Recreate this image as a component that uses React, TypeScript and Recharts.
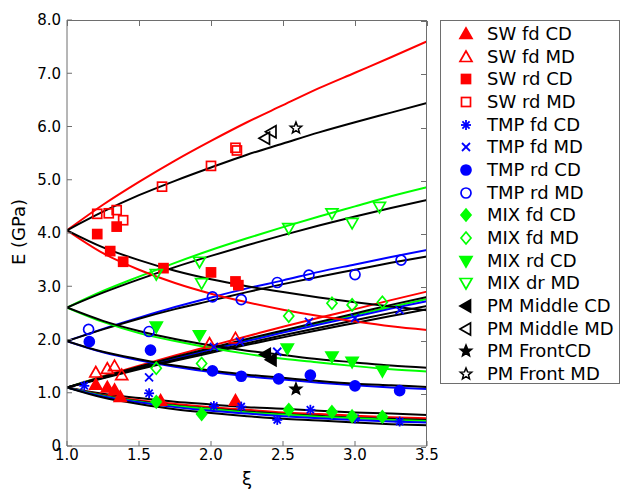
import React from 'react';
import { ComposedChart, Line, Scatter, XAxis, YAxis } from 'recharts';

// ---------- curve grid and values ----------
const XI_GRID = [1, 1.25, 1.5, 1.75, 2, 2.25, 2.5, 2.75, 3, 3.25, 3.5];

const RED_UP_A = [4.05, 4.53, 4.96, 5.36, 5.73, 6.08, 6.40, 6.72, 7.01, 7.30, 7.60];
const RED_DOWN_A = [4.05, 3.62, 3.31, 3.06, 2.86, 2.70, 2.56, 2.44, 2.34, 2.25, 2.18];
const BLACK_UP_A = [4.05, 4.40, 4.71, 4.98, 5.23, 5.47, 5.68, 5.89, 6.08, 6.26, 6.44];
const BLACK_DOWN_A = [4.05, 3.73, 3.49, 3.29, 3.13, 3.00, 2.89, 2.79, 2.70, 2.62, 2.55];

const GREEN_UP_B = [2.60, 2.91, 3.18, 3.44, 3.68, 3.90, 4.11, 4.31, 4.50, 4.69, 4.86];
const GREEN_DOWN_B = [2.60, 2.33, 2.12, 1.97, 1.84, 1.73, 1.64, 1.57, 1.50, 1.44, 1.40];
const BLACK_UP_B = [2.60, 2.88, 3.13, 3.36, 3.57, 3.77, 3.96, 4.14, 4.31, 4.47, 4.62];
const BLACK_DOWN_B = [2.60, 2.35, 2.16, 2.01, 1.89, 1.79, 1.71, 1.63, 1.57, 1.51, 1.47];

const BLUE_UP_C = [1.97, 2.20, 2.41, 2.61, 2.79, 2.96, 3.11, 3.27, 3.41, 3.55, 3.68];
const BLUE_DOWN_C = [1.97, 1.76, 1.61, 1.49, 1.39, 1.31, 1.25, 1.19, 1.14, 1.10, 1.07];
const BLACK_UP_C = [1.97, 2.19, 2.39, 2.57, 2.73, 2.89, 3.04, 3.18, 3.31, 3.44, 3.56];
const BLACK_DOWN_C = [1.97, 1.77, 1.63, 1.51, 1.42, 1.34, 1.28, 1.22, 1.17, 1.14, 1.11];

const RED_UP_D = [1.10, 1.31, 1.51, 1.70, 1.88, 2.06, 2.24, 2.41, 2.57, 2.74, 2.90];
const BLACK_UP_D1 = [1.10, 1.30, 1.49, 1.67, 1.84, 2.01, 2.17, 2.33, 2.49, 2.65, 2.80];
const GREEN_UP_D = [1.10, 1.30, 1.48, 1.66, 1.83, 1.99, 2.16, 2.31, 2.46, 2.61, 2.76];
const BLUE_UP_D = [1.10, 1.29, 1.47, 1.64, 1.81, 1.97, 2.13, 2.28, 2.43, 2.58, 2.72];
const BLACK_UP_D2 = [1.10, 1.28, 1.46, 1.62, 1.78, 1.93, 2.08, 2.22, 2.36, 2.50, 2.63];
const BLACK_UP_D3 = [1.10, 1.27, 1.44, 1.60, 1.75, 1.90, 2.04, 2.18, 2.31, 2.44, 2.57];

const BLACK_DOWN_D1 = [1.10, 0.98, 0.90, 0.83, 0.78, 0.73, 0.70, 0.66, 0.63, 0.61, 0.58];
const RED_DOWN_D = [1.10, 0.96, 0.86, 0.79, 0.73, 0.68, 0.63, 0.60, 0.57, 0.54, 0.52];
const BLACK_DOWN_D2 = [1.10, 0.95, 0.84, 0.76, 0.70, 0.65, 0.60, 0.57, 0.53, 0.51, 0.49];
const GREEN_DOWN_D = [1.10, 0.94, 0.83, 0.75, 0.69, 0.63, 0.59, 0.55, 0.52, 0.49, 0.47];
const BLUE_DOWN_D = [1.10, 0.93, 0.82, 0.73, 0.66, 0.61, 0.56, 0.52, 0.49, 0.46, 0.44];
const BLACK_DOWN_D3 = [1.10, 0.91, 0.79, 0.69, 0.62, 0.56, 0.51, 0.48, 0.44, 0.41, 0.39];

// ---------- measured points ----------
const SW_FD_CD_XI = [1.20, 1.28, 1.33, 1.37, 1.65, 2.17];
const SW_FD_CD_E = [1.15, 1.10, 1.05, 0.92, 0.85, 0.85];
const SW_FD_MD_XI = [1.20, 1.28, 1.33, 1.38, 1.99, 2.17];
const SW_FD_MD_E = [1.38, 1.45, 1.50, 1.33, 1.92, 2.02];
const SW_RD_CD_XI = [1.21, 1.30, 1.345, 1.39, 1.67, 2.00, 2.17, 2.19];
const SW_RD_CD_E = [3.98, 3.66, 4.12, 3.46, 3.34, 3.26, 3.09, 3.02];
const SW_RD_MD_XI = [1.21, 1.29, 1.345, 1.39, 1.66, 2.00, 2.17, 2.18];
const SW_RD_MD_E = [4.36, 4.37, 4.43, 4.24, 4.87, 5.26, 5.60, 5.55];
const TMP_FD_CD_XI = [1.12, 1.57, 2.02, 2.21, 2.46, 2.69, 3.00, 3.31];
const TMP_FD_CD_E = [1.13, 0.99, 0.75, 0.74, 0.49, 0.68, 0.52, 0.46];
const TMP_FD_MD_XI = [1.57, 2.02, 2.20, 2.46, 2.68, 3.00, 3.31];
const TMP_FD_MD_E = [1.29, 1.86, 1.96, 1.77, 2.33, 2.40, 2.55];
const TMP_RD_CD_XI = [1.155, 1.58, 2.01, 2.21, 2.47, 2.69, 3.00, 3.31];
const TMP_RD_CD_E = [1.96, 1.80, 1.41, 1.31, 1.26, 1.33, 1.13, 1.04];
const TMP_RD_MD_XI = [1.15, 1.57, 2.01, 2.21, 2.46, 2.68, 3.00, 3.32];
const TMP_RD_MD_E = [2.19, 2.15, 2.80, 2.75, 3.07, 3.21, 3.22, 3.49];
const MIX_FD_CD_XI = [1.62, 1.935, 2.54, 2.84, 2.98, 3.19];
const MIX_FD_CD_E = [0.83, 0.60, 0.68, 0.64, 0.56, 0.55];
const MIX_FD_MD_XI = [1.62, 1.935, 2.54, 2.84, 2.98, 3.19];
const MIX_FD_MD_E = [1.46, 1.55, 2.44, 2.68, 2.65, 2.70];
const MIX_RD_CD_XI = [1.62, 1.92, 2.53, 2.84, 2.98, 3.19];
const MIX_RD_CD_E = [2.24, 2.08, 1.83, 1.68, 1.58, 1.41];
const MIX_DR_MD_XI = [1.62, 1.92, 1.935, 2.54, 2.84, 2.98, 3.17];
const MIX_DR_MD_E = [3.23, 3.46, 3.06, 4.09, 4.37, 4.19, 4.49];
const PM_MID_CD_XI = [2.38, 2.42];
const PM_MID_CD_E = [1.72, 1.62];
const PM_MID_MD_XI = [2.375, 2.42];
const PM_MID_MD_E = [5.78, 5.90];
const PM_FRONT_CD_XI = [2.59];
const PM_FRONT_CD_E = [1.07];
const PM_FRONT_MD_XI = [2.59];
const PM_FRONT_MD_E = [5.97];

const X_TICKS = [1, 1.5, 2, 2.5, 3, 3.5];
const Y_TICKS = [0, 1, 2, 3, 4, 5, 6, 7, 8];
const X_MIN = 1;
const X_MAX = 3.5;
const Y_MIN = 0;
const Y_MAX = 8;

const RED = '#ff0000';
const BLUE = '#0000ff';
const GREEN = '#00ff00';
const BLACK = '#000000';

const curve = (vals: number[]) => XI_GRID.map((x, i) => ({ x, y: vals[i] }));
const pts = (xs: number[], ys: number[]) => xs.map((x, i) => ({ x, y: ys[i] }));

const CURVES: { key: string; color: string; vals: number[] }[] = [
  { key: 'bdd1', color: BLACK, vals: BLACK_DOWN_D1 },
  { key: 'rdd', color: RED, vals: RED_DOWN_D },
  { key: 'bdd2', color: BLACK, vals: BLACK_DOWN_D2 },
  { key: 'gdd', color: GREEN, vals: GREEN_DOWN_D },
  { key: 'bldd', color: BLUE, vals: BLUE_DOWN_D },
  { key: 'bdd3', color: BLACK, vals: BLACK_DOWN_D3 },
  { key: 'rud', color: RED, vals: RED_UP_D },
  { key: 'gud', color: GREEN, vals: GREEN_UP_D },
  { key: 'blud', color: BLUE, vals: BLUE_UP_D },
  { key: 'bud1', color: BLACK, vals: BLACK_UP_D1 },
  { key: 'bud2', color: BLACK, vals: BLACK_UP_D2 },
  { key: 'bud3', color: BLACK, vals: BLACK_UP_D3 },
  { key: 'bluc', color: BLUE, vals: BLUE_UP_C },
  { key: 'bldc', color: BLUE, vals: BLUE_DOWN_C },
  { key: 'buc', color: BLACK, vals: BLACK_UP_C },
  { key: 'bdc', color: BLACK, vals: BLACK_DOWN_C },
  { key: 'gub', color: GREEN, vals: GREEN_UP_B },
  { key: 'gdb', color: GREEN, vals: GREEN_DOWN_B },
  { key: 'bub', color: BLACK, vals: BLACK_UP_B },
  { key: 'bdb', color: BLACK, vals: BLACK_DOWN_B },
  { key: 'rua', color: RED, vals: RED_UP_A },
  { key: 'rda', color: RED, vals: RED_DOWN_A },
  { key: 'bua', color: BLACK, vals: BLACK_UP_A },
  { key: 'bda', color: BLACK, vals: BLACK_DOWN_A },
];

type Kind = 'triUp' | 'square' | 'aster' | 'cross' | 'circle' | 'diamond' | 'triDown' | 'triLeft' | 'star';

const SERIES: { name: string; kind: Kind; color: string; filled: boolean; xs: number[]; ys: number[] }[] = [
  { name: 'SW fd CD', kind: 'triUp', color: RED, filled: true, xs: SW_FD_CD_XI, ys: SW_FD_CD_E },
  { name: 'SW fd MD', kind: 'triUp', color: RED, filled: false, xs: SW_FD_MD_XI, ys: SW_FD_MD_E },
  { name: 'SW rd CD', kind: 'square', color: RED, filled: true, xs: SW_RD_CD_XI, ys: SW_RD_CD_E },
  { name: 'SW rd MD', kind: 'square', color: RED, filled: false, xs: SW_RD_MD_XI, ys: SW_RD_MD_E },
  { name: 'TMP fd CD', kind: 'aster', color: BLUE, filled: false, xs: TMP_FD_CD_XI, ys: TMP_FD_CD_E },
  { name: 'TMP fd MD', kind: 'cross', color: BLUE, filled: false, xs: TMP_FD_MD_XI, ys: TMP_FD_MD_E },
  { name: 'TMP rd CD', kind: 'circle', color: BLUE, filled: true, xs: TMP_RD_CD_XI, ys: TMP_RD_CD_E },
  { name: 'TMP rd MD', kind: 'circle', color: BLUE, filled: false, xs: TMP_RD_MD_XI, ys: TMP_RD_MD_E },
  { name: 'MIX fd CD', kind: 'diamond', color: GREEN, filled: true, xs: MIX_FD_CD_XI, ys: MIX_FD_CD_E },
  { name: 'MIX fd MD', kind: 'diamond', color: GREEN, filled: false, xs: MIX_FD_MD_XI, ys: MIX_FD_MD_E },
  { name: 'MIX rd CD', kind: 'triDown', color: GREEN, filled: true, xs: MIX_RD_CD_XI, ys: MIX_RD_CD_E },
  { name: 'MIX dr MD', kind: 'triDown', color: GREEN, filled: false, xs: MIX_DR_MD_XI, ys: MIX_DR_MD_E },
  { name: 'PM Middle CD', kind: 'triLeft', color: BLACK, filled: true, xs: PM_MID_CD_XI, ys: PM_MID_CD_E },
  { name: 'PM Middle MD', kind: 'triLeft', color: BLACK, filled: false, xs: PM_MID_MD_XI, ys: PM_MID_MD_E },
  { name: 'PM FrontCD', kind: 'star', color: BLACK, filled: true, xs: PM_FRONT_CD_XI, ys: PM_FRONT_CD_E },
  { name: 'PM Front MD', kind: 'star', color: BLACK, filled: false, xs: PM_FRONT_MD_XI, ys: PM_FRONT_MD_E },
];

function Marker({ cx, cy, kind, color, filled }: { cx: number; cy: number; kind: Kind; color: string; filled: boolean }) {
  const f = filled ? color : 'none';
  const sw = 1.7;
  const common = { fill: f, stroke: color, strokeWidth: sw, strokeLinejoin: 'miter' as const };
  switch (kind) {
    case 'triUp':
      return <polygon points={`${cx},${cy - 6} ${cx - 6},${cy + 4.5} ${cx + 6},${cy + 4.5}`} {...common} />;
    case 'triDown':
      return <polygon points={`${cx},${cy + 6} ${cx - 6},${cy - 4.5} ${cx + 6},${cy - 4.5}`} {...common} />;
    case 'triLeft':
      return <polygon points={`${cx - 6},${cy} ${cx + 4.5},${cy - 6} ${cx + 4.5},${cy + 6}`} {...common} />;
    case 'square':
      return <rect x={cx - 4.5} y={cy - 4.5} width={9} height={9} {...common} />;
    case 'circle':
      return <circle cx={cx} cy={cy} r={5} {...common} />;
    case 'diamond':
      return <polygon points={`${cx},${cy - 6} ${cx + 5},${cy} ${cx},${cy + 6} ${cx - 5},${cy}`} {...common} />;
    case 'cross':
      return (
        <g stroke={color} strokeWidth={1.8}>
          <line x1={cx - 4} y1={cy - 4} x2={cx + 4} y2={cy + 4} />
          <line x1={cx - 4} y1={cy + 4} x2={cx + 4} y2={cy - 4} />
        </g>
      );
    case 'aster':
      return (
        <g stroke={color} strokeWidth={1.8}>
          <line x1={cx - 5} y1={cy} x2={cx + 5} y2={cy} />
          <line x1={cx} y1={cy - 5} x2={cx} y2={cy + 5} />
          <line x1={cx - 3.6} y1={cy - 3.6} x2={cx + 3.6} y2={cy + 3.6} />
          <line x1={cx - 3.6} y1={cy + 3.6} x2={cx + 3.6} y2={cy - 3.6} />
        </g>
      );
    case 'star': {
      const p: string[] = [];
      for (let i = 0; i < 10; i++) {
        const r = i % 2 === 0 ? 6 : 2.6;
        const a = -Math.PI / 2 + (i * Math.PI) / 5;
        p.push(`${cx + r * Math.cos(a)},${cy + r * Math.sin(a)}`);
      }
      return <polygon points={p.join(' ')} fill={f} stroke={color} strokeWidth={1.5} />;
    }
    default:
      return null;
  }
}

const FONT = '"DejaVu Sans", sans-serif';
const AXIS_GRAY = '#6e6e6e';
const TICK_LEN = 5;

// plot rectangle (from the chart margins and axis sizes below)
const W = 622;
const H = 490;
const M_TOP = 20;
const M_RIGHT = 195;
const M_LEFT = 20;
const Y_AXIS_W = 47;
const X_AXIS_H = 44;
const P_LEFT = M_LEFT + Y_AXIS_W;
const P_RIGHT = W - M_RIGHT;
const P_TOP = M_TOP;
const P_BOTTOM = H - X_AXIS_H;

// axes box outline (top and right edges) with inward ticks, MATLAB style
function Frame() {
  const sx = (v: number) => P_LEFT + ((v - X_MIN) / (X_MAX - X_MIN)) * (P_RIGHT - P_LEFT);
  const sy = (v: number) => P_BOTTOM - ((v - Y_MIN) / (Y_MAX - Y_MIN)) * (P_BOTTOM - P_TOP);
  return (
    <div
      style={{
        position: 'absolute',
        left: P_LEFT,
        top: P_TOP,
        width: P_RIGHT - P_LEFT,
        height: P_BOTTOM - P_TOP,
        borderTop: `1px solid ${AXIS_GRAY}`,
        borderRight: `1px solid ${AXIS_GRAY}`,
        boxSizing: 'border-box',
        pointerEvents: 'none',
        zIndex: 5,
      }}
    >
      {X_TICKS.map((t) => (
        <div
          key={`x${t}`}
          style={{ position: 'absolute', left: Math.round(sx(t) - P_LEFT), top: 0, width: 1, height: TICK_LEN, background: AXIS_GRAY }}
        />
      ))}
      {Y_TICKS.map((t) => (
        <div
          key={`y${t}`}
          style={{
            position: 'absolute',
            right: 0,
            top: Math.round(sy(t) - P_TOP),
            width: TICK_LEN,
            height: 1,
            background: AXIS_GRAY,
          }}
        />
      ))}
    </div>
  );
}

function LegendBox() {
  return (
    <div
      style={{
        position: 'absolute',
        left: 440,
        top: 20,
        width: 180,
        height: 364,
        border: `1px solid ${AXIS_GRAY}`,
        boxSizing: 'border-box',
        background: '#fff',
      }}
    >
      {SERIES.map((s, i) => {
        const cy = 13 + i * 22.66;
        return (
          <div key={s.name} style={{ position: 'absolute', left: 0, top: cy - 12, height: 24, width: 178 }}>
            <svg width={40} height={24} style={{ position: 'absolute', left: 5, top: 0 }}>
              <Marker cx={20} cy={12} kind={s.kind} color={s.color} filled={s.filled} />
            </svg>
            <span
              style={{
                position: 'absolute',
                left: 46,
                top: 0,
                lineHeight: '24px',
                fontFamily: FONT,
                fontSize: 18,
                color: '#000',
                whiteSpace: 'nowrap',
              }}
            >
              {s.name}
            </span>
          </div>
        );
      })}
    </div>
  );
}

export default function App() {
  return (
    <div style={{ position: 'absolute', left: 0, top: 0, width: W, height: H, background: '#fff' }}>
      <ComposedChart width={W} height={H} margin={{ top: M_TOP, right: M_RIGHT, bottom: 0, left: M_LEFT }}>
        <XAxis
          type="number"
          dataKey="x"
          domain={[X_MIN, X_MAX]}
          ticks={X_TICKS}
          allowDataOverflow
          height={X_AXIS_H}
          stroke={AXIS_GRAY}
          tickSize={-TICK_LEN}
          tickMargin={8}
          tick={{ fill: '#000', fontSize: 15, fontFamily: FONT }}
          tickFormatter={(v: number) => v.toFixed(1)}
        />
        <YAxis
          type="number"
          dataKey="y"
          domain={[Y_MIN, Y_MAX]}
          ticks={Y_TICKS}
          allowDataOverflow
          width={Y_AXIS_W}
          stroke={AXIS_GRAY}
          tickSize={-TICK_LEN}
          tickMargin={11}
          tick={{ fill: '#000', fontSize: 15, fontFamily: FONT }}
          tickFormatter={(v: number) => (v === 0 ? '0' : v.toFixed(1))}
        />
        {CURVES.map((c) => (
          <Line
            key={c.key}
            data={curve(c.vals)}
            dataKey="y"
            type="monotone"
            stroke={c.color}
            strokeWidth={2}
            dot={false}
            activeDot={false}
            isAnimationActive={false}
            legendType="none"
          />
        ))}
        {SERIES.map((s) => (
          <Scatter
            key={s.name}
            name={s.name}
            data={pts(s.xs, s.ys)}
            isAnimationActive={false}
            shape={(p: any) => <Marker cx={p.cx} cy={p.cy} kind={s.kind} color={s.color} filled={s.filled} />}
          />
        ))}
      </ComposedChart>
      <Frame />
      <div
        style={{
          position: 'absolute',
          left: 18,
          top: 232,
          transform: 'translate(-50%, -50%) rotate(-90deg)',
          fontFamily: FONT,
          fontSize: 18,
          whiteSpace: 'nowrap',
          color: '#000',
        }}
      >
        E (GPa)
      </div>
      <div
        style={{
          position: 'absolute',
          left: 247,
          top: 478,
          transform: 'translate(-50%, -50%)',
          fontFamily: FONT,
          fontSize: 18,
          color: '#000',
        }}
      >
        ξ
      </div>
      <LegendBox />
    </div>
  );
}
